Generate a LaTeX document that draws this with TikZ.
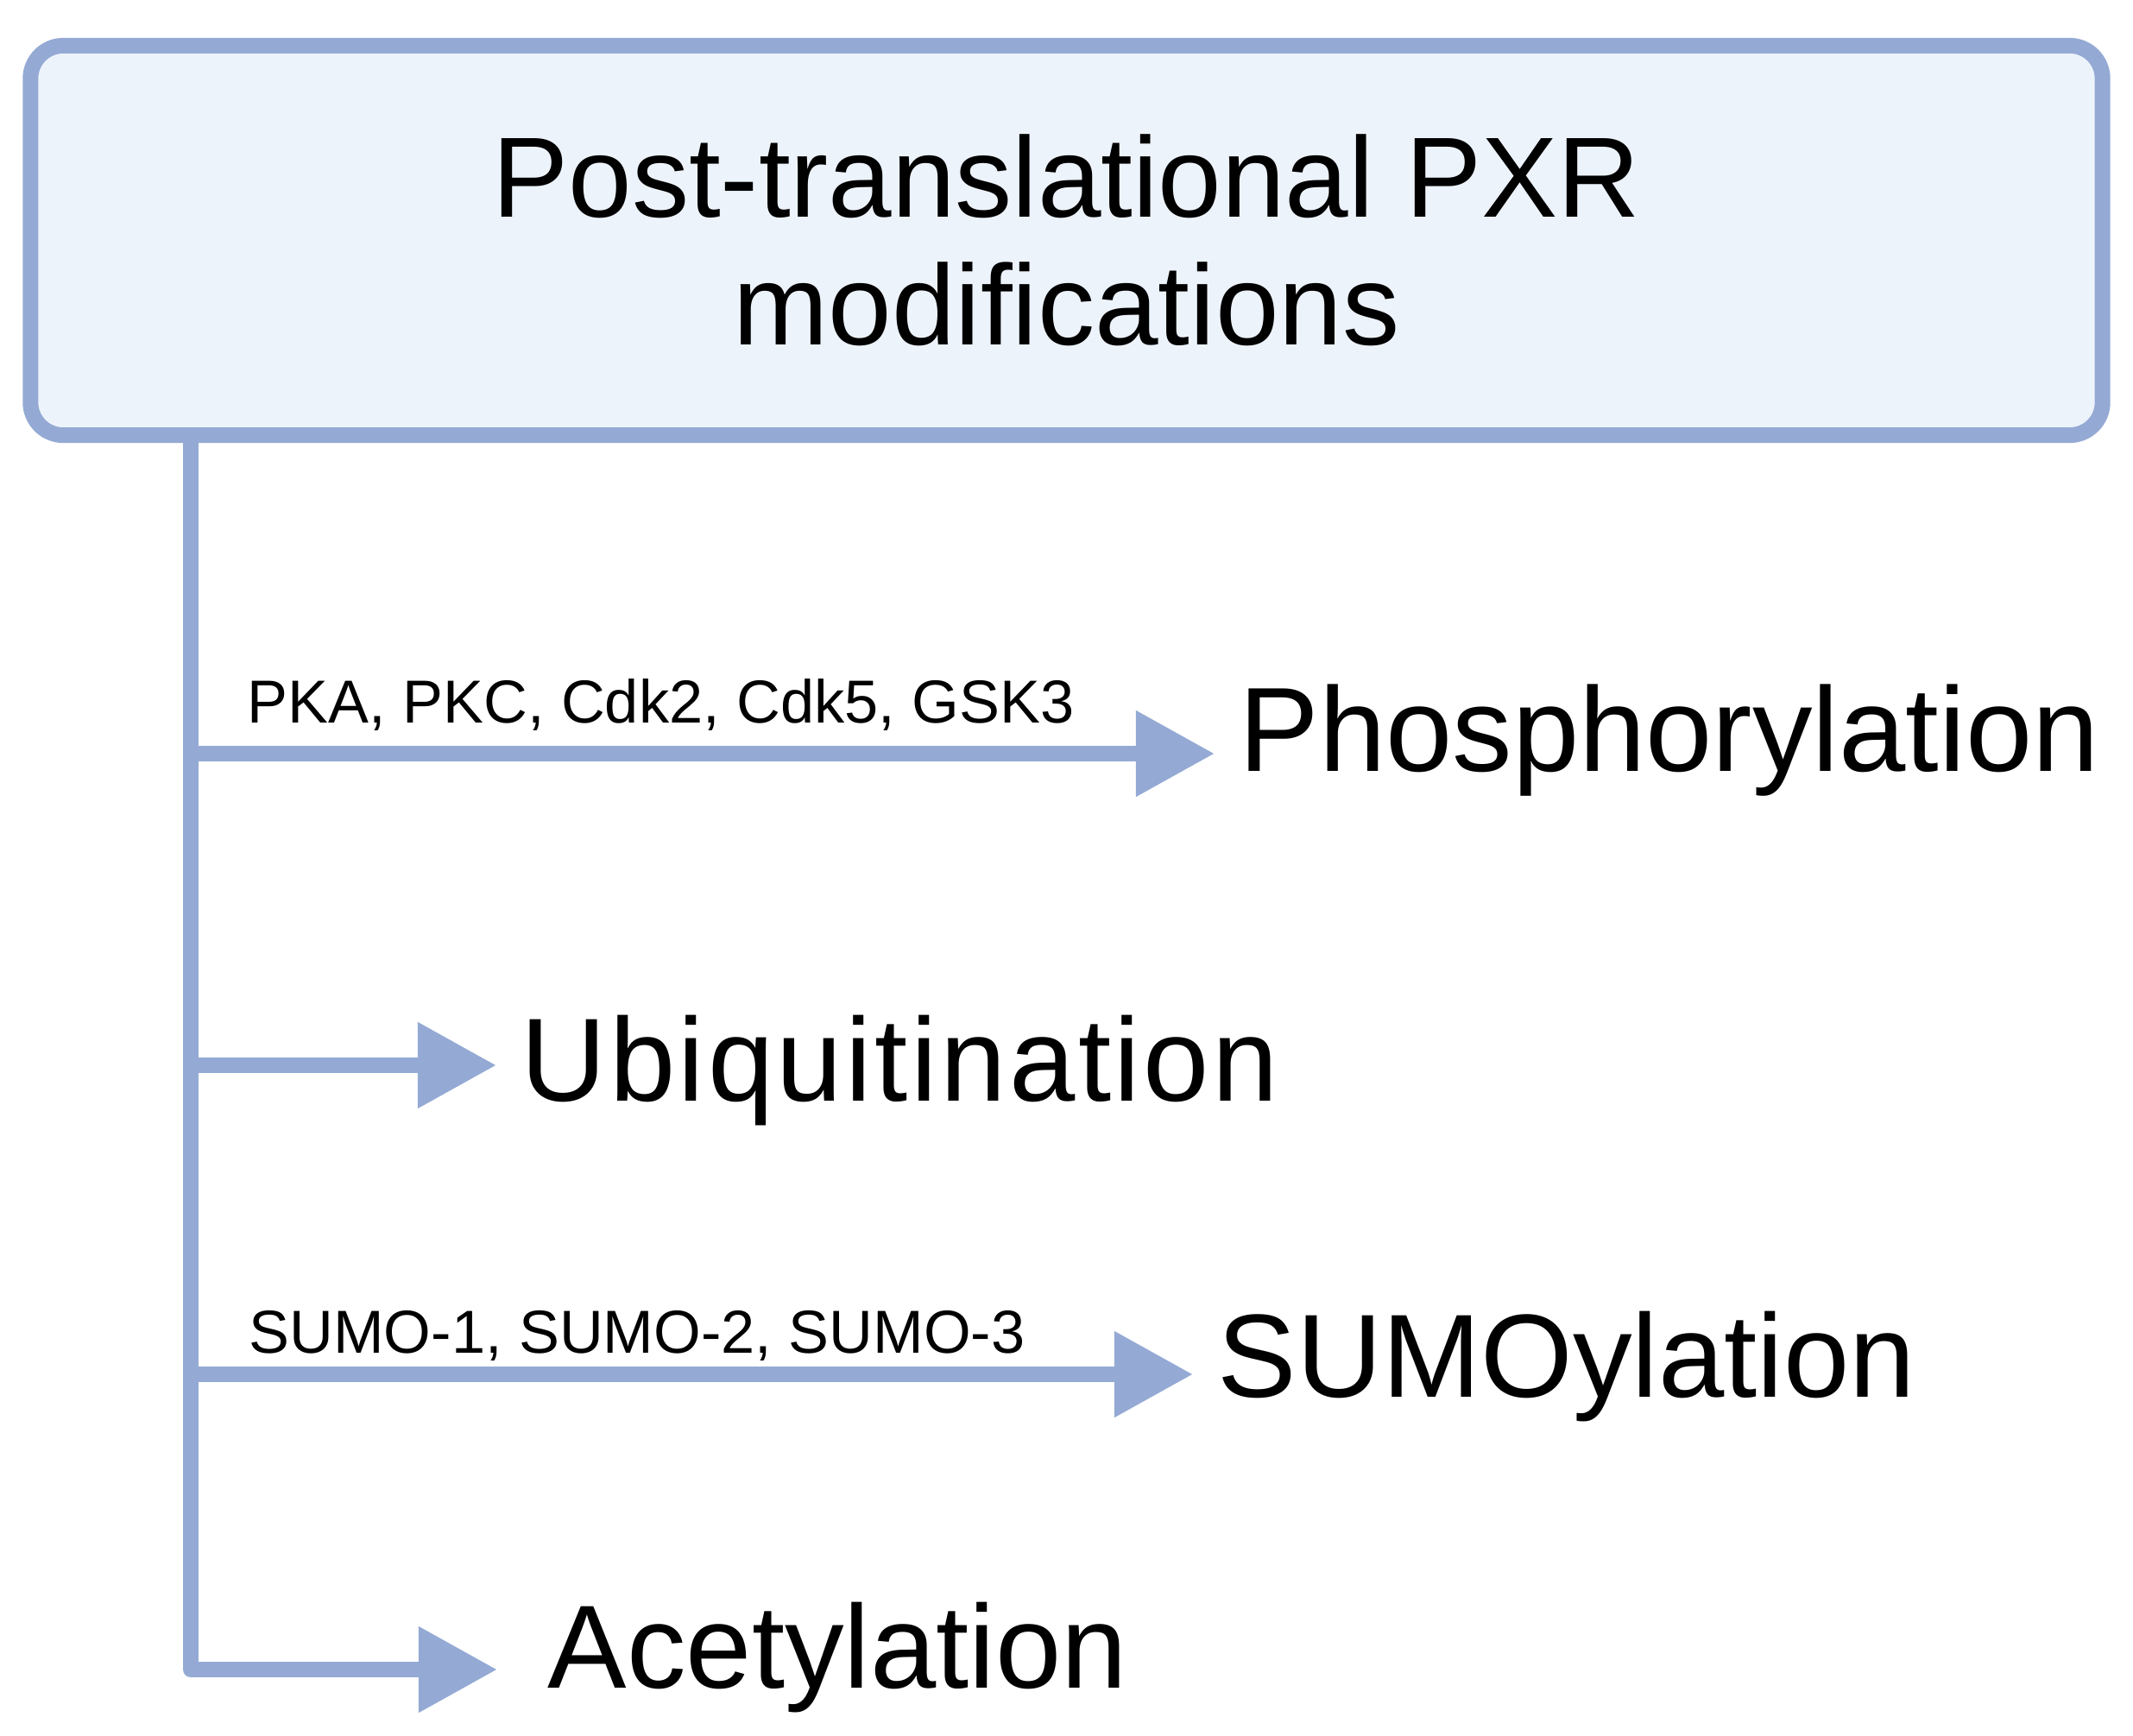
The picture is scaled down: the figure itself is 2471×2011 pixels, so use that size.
\documentclass[tikz,border=0pt]{standalone}
\usepackage{fontspec}
\setmainfont{Liberation Sans}
\usetikzlibrary{arrows.meta}
\definecolor{ptmblue}{HTML}{94AAD4}
\definecolor{ptmfill}{HTML}{EDF3FB}

\begin{document}
\begin{tikzpicture}[x=0.01cm, y=-0.01cm,
    ptmbox/.style={draw=ptmblue, fill=ptmfill, line width=0.18cm, rounded corners=0.38cm,
        minimum width=23.99cm, minimum height=4.51cm, align=center,
        font=\fontsize{37.6}{42.1}\selectfont},
    link/.style={draw=ptmblue, line width=0.18cm, line join=round},
    branch/.style={link, -{Triangle[length=0.91cm, width=0.95cm]}},
    modnode/.style={anchor=base west, inner xsep=0.28cm, font=\fontsize{39}{44}\selectfont},
    enzlabel/.style={anchor=base west, inner sep=0pt, font=\fontsize{20}{24}\selectfont}]
    \useasboundingbox (0,0) rectangle (2471,2011);

    \node[ptmbox] (ptm) at (1235.5,278.5) {Post-translational PXR\\modifications};

    % branch points on the trunk
    \coordinate (b1) at (221,873);
    \coordinate (b2) at (221,1234);
    \coordinate (b3) at (221,1592);
    \coordinate (b4) at (221,1934);

    \node[modnode, font=\fontsize{39.5}{44}\selectfont] (phos) at (1407,893) {Phosphorylation};
    \node[modnode] (ubiq) at (575,1275) {\addfontfeature{LetterSpace=2.6}Ubiquitination};
    \node[modnode] (sumo) at (1382,1618) {SUMOylation};
    \node[modnode, inner xsep=0.58cm] (acet) at (576,1955) {Acetylation};

    \node[enzlabel] (kinases) at (286,837) {PKA, PKC, Cdk2, Cdk5, GSK3};
    \node[enzlabel] (sumos) at (288,1567) {SUMO-1, SUMO-2, SUMO-3};

    \draw[branch] (ptm.south -| b1) -- (b4) -- (b4 -| acet.west);
    \draw[branch] (b1) -- (b1 -| phos.west);
    \draw[branch] (b2) -- (b2 -| ubiq.west);
    \draw[branch] (b3) -- (b3 -| sumo.west);
\end{tikzpicture}
\end{document}
